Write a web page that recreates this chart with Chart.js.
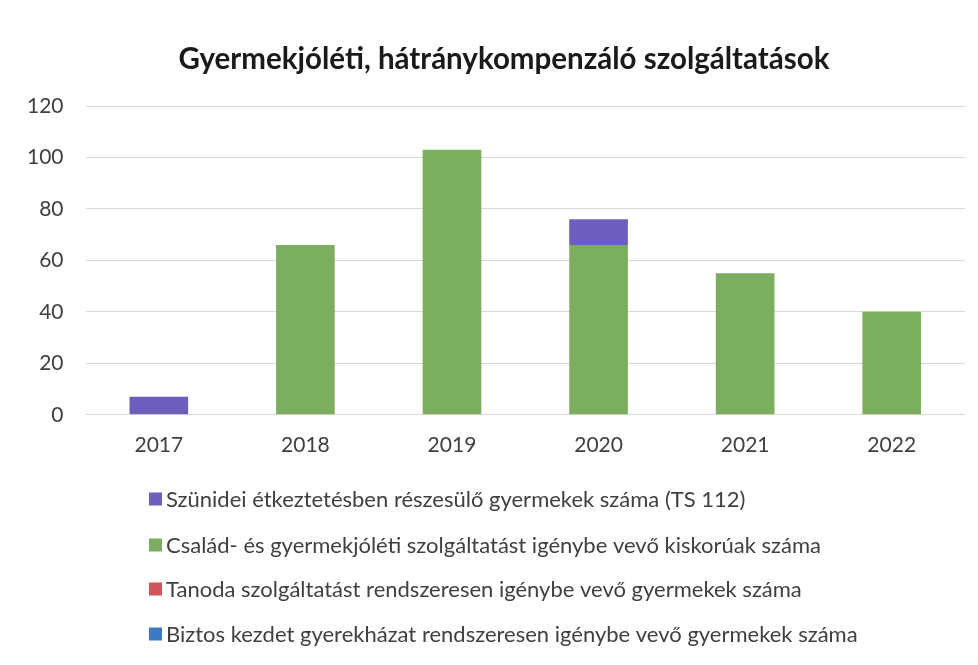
<!DOCTYPE html>
<html>
<head>
<meta charset="utf-8">
<script src="https://cdn.jsdelivr.net/npm/chart.js@4.4.1/dist/chart.umd.min.js"></script>
<style>
  html, body { margin: 0; padding: 0; background: #ffffff; }
  #wrap { width: 978px; height: 665px; position: relative; }
</style>
</head>
<body>
<div id="wrap"><canvas id="c" width="978" height="665"></canvas></div>
<script>
// ---- data ----
const categories = ['2017', '2018', '2019', '2020', '2021', '2022'];
const seriesNames = [
  'Szünidei étkeztetésben részesülő gyermekek száma (TS 112)',
  'Család- és gyermekjóléti szolgáltatást igénybe vevő kiskorúak száma',
  'Tanoda szolgáltatást rendszeresen igénybe vevő gyermekek száma',
  'Biztos kezdet gyerekházat rendszeresen igénybe vevő gyermekek száma'
];
const szunideiValues = [7, 0, 0, 10, 0, 0];
const csaladValues   = [0, 66, 103, 66, 55, 40];
const tanodaValues   = [0, 0, 0, 0, 0, 0];
const biztosValues   = [0, 0, 0, 0, 0, 0];
const yTickValues    = [0, 20, 40, 60, 80, 100, 120];
const titleText = 'Gyermekjóléti, hátránykompenzáló szolgáltatások';

// ---- styles ----
const FONT = 'Lato, "Liberation Sans", sans-serif';
const colors = ['#6E5FBE', '#7BAE5F', '#D2555C', '#3C7BC4'];
const textColor = '#404040';
const legendRowsY = [499, 545, 589, 634];

const titlePlugin = {
  id: 'offsetTitle',
  afterDraw(chart) {
    const ctx = chart.ctx;
    ctx.save();
    ctx.font = 'bold 29.5px ' + FONT;
    ctx.fillStyle = '#1a1a1a';
    ctx.textAlign = 'center';
    ctx.textBaseline = 'alphabetic';
    ctx.fillText(titleText, 504, 69);
    ctx.restore();
  }
};

const legendPlugin = {
  id: 'stackedLegend',
  afterDraw(chart) {
    const ctx = chart.ctx;
    ctx.save();
    ctx.font = '22px ' + FONT;
    ctx.textBaseline = 'middle';
    ctx.textAlign = 'left';
    chart.data.datasets.forEach((ds, i) => {
      const y = legendRowsY[i];
      ctx.fillStyle = ds.backgroundColor;
      ctx.fillRect(149, y - 6.5, 13, 13);
      ctx.fillStyle = textColor;
      ctx.fillText(ds.label, 166, y + 1);
    });
    ctx.restore();
  }
};

const valueSets = [szunideiValues, csaladValues, tanodaValues, biztosValues];
const stackOrder = [1, 0, 2, 3];

new Chart(document.getElementById('c'), {
  type: 'bar',
  data: {
    labels: categories,
    datasets: seriesNames.map((name, i) => ({
      label: name,
      data: valueSets[i],
      backgroundColor: colors[i],
      borderWidth: 0,
      order: stackOrder[i],
      barPercentage: 0.4,
      categoryPercentage: 1.0
    }))
  },
  options: {
    responsive: false,
    animation: false,
    layout: { padding: { left: 5, right: 13, top: 106, bottom: 189 } },
    plugins: {
      legend: { display: false },
      tooltip: { enabled: false },
      title: { display: false }
    },
    scales: {
      x: {
        stacked: true,
        grid: { display: false, drawTicks: false },
        border: { display: false },
        ticks: { color: textColor, font: { family: FONT, size: 21 }, padding: 18 }
      },
      y: {
        stacked: true,
        min: 0,
        max: 120,
        afterBuildTicks(axis) { axis.ticks = yTickValues.map(v => ({ value: v })); },
        grid: { color: '#d9d9d9', lineWidth: 1, drawTicks: false },
        border: { display: false },
        ticks: { color: textColor, font: { family: FONT, size: 21 }, padding: 22 }
      }
    }
  },
  plugins: [titlePlugin, legendPlugin]
});
</script>
</body>
</html>
